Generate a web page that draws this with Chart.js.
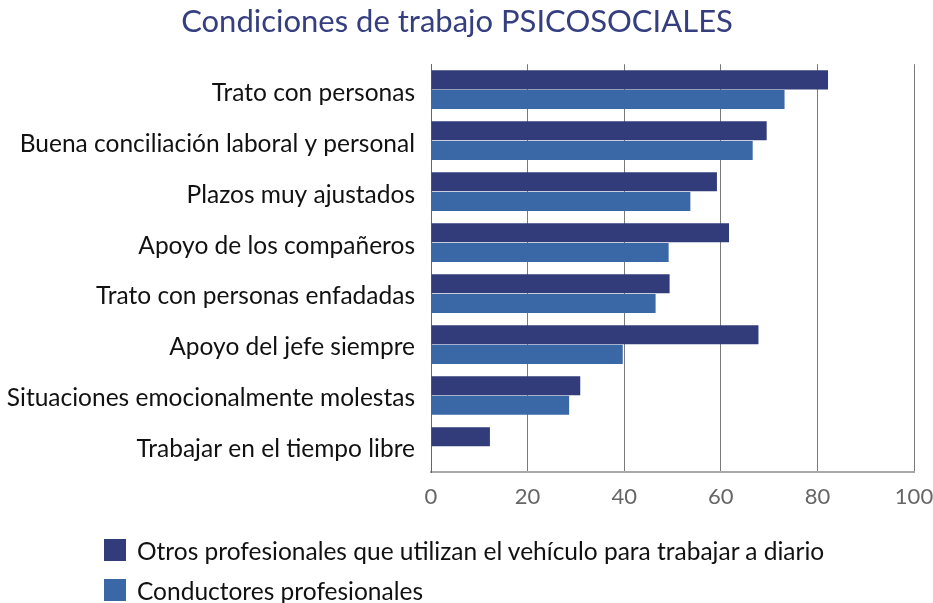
<!DOCTYPE html>
<html><head><meta charset="utf-8">
<script src="https://cdn.jsdelivr.net/npm/chart.js@4/dist/chart.umd.min.js"></script>
<style>
html,body{margin:0;padding:0;background:#fff;}
#wrap{position:relative;width:933px;height:603px;}
#legend{position:absolute;left:104px;top:530px;font-family:Lato,sans-serif;font-size:24.5px;color:#111;}
.li{display:flex;align-items:center;height:40px;}
.sw{width:22px;height:22px;margin-right:11px;}
</style></head>
<body>
<div id="wrap"><canvas id="c" width="933" height="603"></canvas>
<div id="legend"></div></div>
<script>
const title = 'Condiciones de trabajo PSICOSOCIALES';
const categories = ['Trato con personas','Buena conciliación laboral y personal','Plazos muy ajustados','Apoyo de los compañeros','Trato con personas enfadadas','Apoyo del jefe siempre','Situaciones emocionalmente molestas','Trabajar en el tiempo libre'];
const seriesNames = ['Otros profesionales que utilizan el vehículo para trabajar a diario','Conductores profesionales'];
const otros = [82.2, 69.5, 59.2, 61.7, 49.4, 67.8, 30.9, 12.2];
const conductores = [73.2, 66.6, 53.7, 49.2, 46.5, 39.7, 28.6, null];
const xTicks = [0, 20, 40, 60, 80, 100];
const colors = ['#323c7b', '#3a67a6'];

const ctx = document.getElementById('c');
new Chart(ctx, {
  type: 'bar',
  data: {
    labels: categories,
    datasets: [
      {label: seriesNames[0], data: otros, backgroundColor: colors[0], barPercentage: 0.97, categoryPercentage: 0.77},
      {label: seriesNames[1], data: conductores, backgroundColor: colors[1], barPercentage: 0.97, categoryPercentage: 0.77}
    ]
  },
  options: {
    indexAxis: 'y',
    responsive: false,
    animation: false,
    layout: {padding: {top: 3, right: 19, bottom: 91, left: 0}},
    plugins: {
      legend: {display: false},
      tooltip: {enabled: false},
      title: {display: true, text: title, color: '#353f7f', font: {family: 'Lato', size: 31, weight: 'normal'}, padding: {top: 0, bottom: 24}}
    },
    scales: {
      x: {
        min: 0, max: 100,
        afterBuildTicks: (s) => { s.ticks = xTicks.map(v => ({value: v})); },
        grid: {color: '#7a7a7a', lineWidth: 1, drawTicks: false},
        border: {color: '#a8a8a8', width: 2},
        ticks: {color: '#666', font: {family: 'Lato', size: 22}, padding: 12},
        afterFit: (s) => { s.height = 40; s.paddingRight = 0; }
      },
      y: {
        grid: {display: false, drawTicks: false},
        border: {color: '#666', width: 1},
        ticks: {color: '#111', font: {family: 'Lato', size: 24.5}, padding: 16, labelOffset: 3},
        afterFit: (s) => { s.width = 431; }
      }
    }
  }
});

const lg = document.getElementById('legend');
seriesNames.forEach((n, i) => {
  const d = document.createElement('div'); d.className = 'li';
  const sw = document.createElement('div'); sw.className = 'sw'; sw.style.background = colors[i];
  const t = document.createElement('span'); t.textContent = n;
  d.appendChild(sw); d.appendChild(t); lg.appendChild(d);
});
</script>
</body></html>
